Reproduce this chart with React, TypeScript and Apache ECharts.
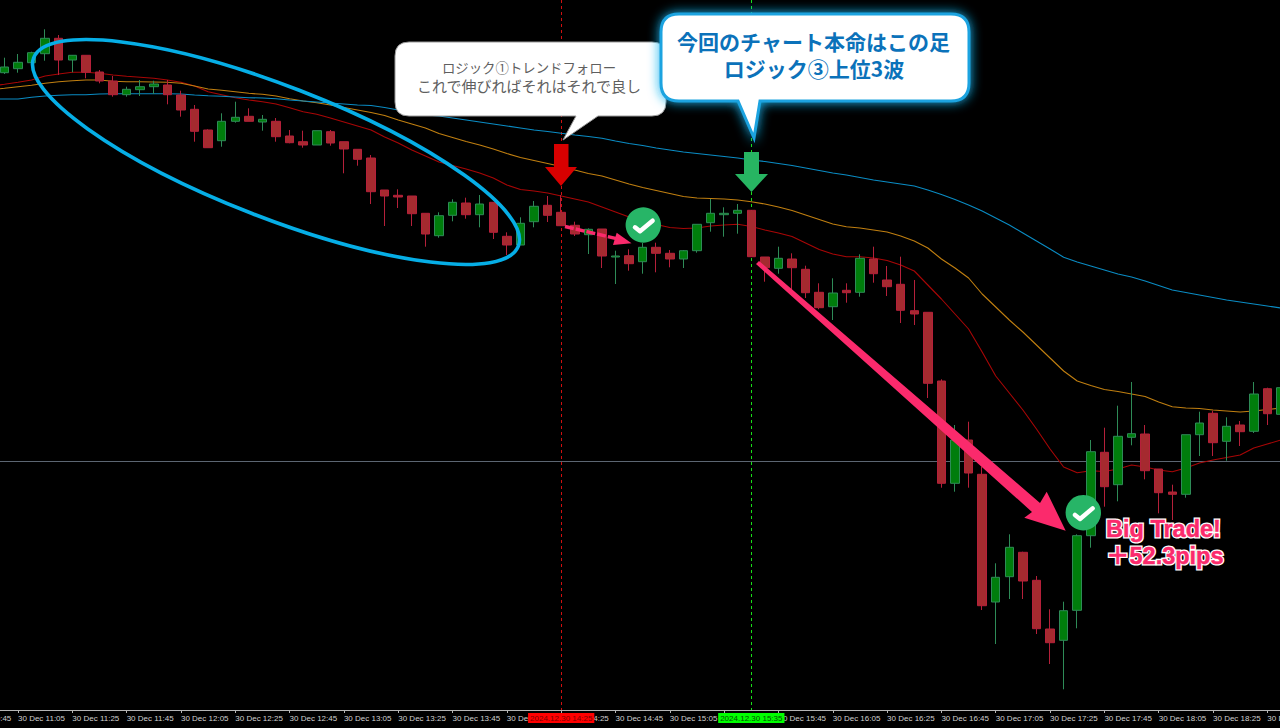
import React, { useEffect, useRef } from "react";
import * as echarts from "echarts";

const pad = ["-", "-", "-"];

const times = [
  "10:45","10:50","10:55",
  "11:00","11:05","11:10","11:15","11:20","11:25","11:30","11:35","11:40","11:45",
  "11:50","11:55","12:00","12:05","12:10","12:15","12:20","12:25","12:30","12:35",
  "12:40","12:45","12:50","12:55","13:00","13:05","13:10","13:15","13:20","13:25",
  "13:30","13:35","13:40","13:45","13:50","13:55","14:00","14:05","14:10","14:15",
  "14:20","14:25","14:30","14:35","14:40","14:45","14:50","14:55","15:00","15:05",
  "15:10","15:15","15:20","15:25","15:30","15:35","15:40","15:45","15:50","15:55",
  "16:00","16:05","16:10","16:15","16:20","16:25","16:30","16:35","16:40","16:45",
  "16:50","16:55","17:00","17:05","17:10","17:15","17:20","17:25","17:30","17:35",
  "17:40","17:45","17:50","17:55","18:00","18:05","18:10","18:15","18:20","18:25",
  "18:30","18:35","18:40","18:45","18:50",
];

const opens = [
  72.7,68.7,62.7,53.7,38.3,60,55.3,72,81,94.7,89.7,86.7,85,95,109.3,130,140.7,121.3,116.3,122,121.3,136,141.7,145,
  131.7,141.7,149.3,158,190,195.3,196,213.3,235.7,215.3,203,214.7,202.3,236.3,245,221.7,205.3,212.3,225.3,234.7,229,257,255.7,261.7,247.3,253.3,259,250.7,222.7,214.7,213.3,210.3,
  257,268.3,259,269.3,292.3,306.7,290.3,292.3,259,280,284.3,310.7,312.3,381,483.3,440,474.3,602,576.7,552.3,580.3,629,640.3,610.3,535.7,452.3,484.7,437.3,434,469,492,494.3,434.7,413.3,441.3,425,431.3,388.7,414.3,
];
const closes = [
  67,62.3,52.7,38.3,60,55.3,72.3,81,94.7,89.3,86.7,84,94.7,110,131.3,147.7,121.3,117.3,121.3,119.3,136.7,142.7,145,130.7,
  143,149,159.3,191.7,196,197,213.7,234,215.7,202.3,214.7,204,232.3,245,223.3,206.3,215.3,225.7,234,229.3,256,256,263.7,247.3,253.3,259,250.7,224.3,213.3,213.3,210.3,256.7,
  267.7,258.3,267.7,292.7,307.7,293,292.7,258.3,273.7,286.7,310.3,314,383.3,483.3,440,473,605.7,577.3,547.3,581,628.7,642.7,610.7,535.7,451.7,486.7,436.3,433.7,470.7,492.7,494.3,434.7,423,442.7,426.3,431.7,394,413.7,387.7,
];
const wickTops = [
  57.7,54,51.7,29.3,35,55,55.3,70,76,86.7,80,80.7,80,90.7,105,129.3,113.3,101.7,108.3,115,118,130,130.7,130.7,
  130,141.7,149.3,155,190,189.3,196,213.3,212.3,199.3,197.7,195,202.3,232.3,217.3,201,196,195,221.7,228.3,229,250.7,249.3,243,242.7,250,250,224.3,199,207.3,204,210.3,
  257,246.7,253.3,265.7,283.3,278.3,283.3,254.3,246.7,266,256.7,280,312.3,379.3,425,421.7,466.7,563.3,534.3,551.7,576,609.3,601.7,534.3,440,427.7,405.7,382,425,469,484.7,434.7,411.7,410.7,417.3,421,382,387.7,387.7,
];
const wickBottoms = [
  74,72.7,62.7,60.7,75,72.3,78.3,83.3,96.7,96.7,96,94,104.3,116.7,141.7,147.7,146.7,122.7,121.3,130.7,141.7,143.3,147.7,145,
  145.7,173.3,165.7,204,226,208,226,246.7,237.7,221.3,218.7,227.3,239,255,245,227.3,222,225.7,236,254,268,284,270.7,273.7,272.3,267.3,268,252.7,231.7,236.7,233.7,256.7,
  281.7,273.7,293.3,298,309.3,320,302.7,296.7,282.7,296,323,325,398,487.7,491.7,487.7,610,644,599,599,634,664,689.3,628.3,547.7,506.7,501.3,445.3,479.3,513.3,520,497.7,456,456,460.7,446,433,425,414.3,
];

const fastMA = [
  "-","-",86,
  84.3,82.3,80,76,74,72.3,72.3,73.3,75,76.3,77.3,78.3,80,82.3,86,91.7,94.7,97.7,100,101.7,104,107.7,111.7,114.3,
  118,122,126,130,137,143,150,156,162,165.5,169,173,178,185,189.5,191,193,196,199,202,207,212,217,221,224.5,227.5,228.5,228,226,225,224.3,226.5,
  230,233,236.5,243,249.5,254,256.7,256.7,258,260.5,265,271,285,299,314,329,352,376,393,410,429,449,467,472.7,470.7,471.5,469,465,467,470,471.7,468,463,460,457.5,455,448,444,440,
];
const midMA = [
  "-","-",89.5,
  88.3,86.7,85.3,83.3,81.7,80.7,80,80,81.3,81.7,81.7,82,82.3,83.3,86,89,90.3,91.7,93.3,94.3,96,98.7,101,102.7,
  105,107.5,110,112.5,115.5,120,124,128,133.5,137.5,141.5,145,149,153.5,157.5,160.5,163.5,166.5,170,173.5,176,180,184,187.5,190.5,193.5,196.5,198,198.5,199,200,201.7,
  204,207,210.5,215,219.5,224,226.7,228,230,232,236,241,248,259,268,278,294,307,320,332,345,358,371,381,385.5,389.5,391.5,394,396.5,402,406.7,408,408.5,410,411,412,411,409.5,408,
];
const slowMA = [
  "-","-",99,
  99,99,97.3,96,95.3,94.7,94.7,94,93.7,93.7,93.7,93.7,93.7,94,95,95.7,96.3,97,97.7,98,98.7,100,101,102,
  103,104,105,105.5,107.5,110,112.5,115,116,118,120,122,124,126,128,130,131.5,133.3,135,136.5,138.3,141,143.5,145.5,148,150,152,153.5,155,156.5,158,160,
  161.5,163.5,165.5,168,170.5,173,175,177.5,180,182,184,186,190,194.5,199.5,205,211,218,225,233,241,249,257.2,262,266,270,274,277,281,285.5,290,292.5,295,297.5,300,302,304,306,308,
];

const priceLine = 461.5;
const redEntry = "14:25";
const greenEntry = "15:35";

const FONT_JP = '"Noto Sans CJK JP", "Noto Sans", sans-serif';
const FONT_EN = '"Liberation Sans", "Noto Sans CJK JP", sans-serif';

function bubblePath(l: number, t: number, r: number, b: number, rad: number, t1: number, tx: number, ty: number, t2: number) {
  return `M${l + rad} ${t}L${r - rad} ${t}Q${r} ${t} ${r} ${t + rad}L${r} ${b - rad}Q${r} ${b} ${r - rad} ${b}L${t2} ${b}L${tx} ${ty}L${t1} ${b}L${l + rad} ${b}Q${l} ${b} ${l} ${b - rad}L${l} ${t + rad}Q${l} ${t} ${l + rad} ${t}Z`;
}
echarts.graphic.registerShape("bubbleWhite", echarts.graphic.extendPath(bubblePath(395, 42, 666, 116, 14, 576, 563, 140, 598) as any, {}) as any);
echarts.graphic.registerShape("bubbleBlue", echarts.graphic.extendPath(bubblePath(661, 14, 969, 101, 18, 738, 754, 138, 760) as any, {}) as any);

const check = (cx: number, cy: number) => [
  { type: "circle", z: 20, shape: { cx, cy, r: 17.7 }, style: { fill: "#27b567" } },
  { type: "polyline", z: 21, shape: { points: [[cx - 8.3, cy + 2.3], [cx - 3.3, cy + 6.3], [cx + 9.3, cy - 4.3]] }, style: { stroke: "#ffffff", lineWidth: 4.5, fill: "none", lineCap: "round", lineJoin: "round" } },
];

const bigFill = (x: number, y: number, text: string, size: number) => ({
  type: "text", z: 23, style: { x, y, text, align: "left", verticalAlign: "middle", font: `bold ${size}px ${FONT_EN}`, fill: "#fb2a6c", stroke: "#fb2a6c", lineWidth: 0.5 },
});

export default function App() {
  const ref = useRef<HTMLDivElement>(null);
  useEffect(() => {
    document.body.style.margin = "0";
    document.body.style.background = "#000";
    const chart = echarts.init(ref.current!, null, { renderer: "svg" });
    const candles = times.map((_, k) =>
      k < 3 ? pad : [opens[k - 3], closes[k - 3], wickTops[k - 3], wickBottoms[k - 3]]
    );
    const lineSeries = (name: string, data: any[], color: string, extra: any = {}) => ({
      name, type: "line", data, showSymbol: false, symbol: "none", smooth: false, z: 1,
      lineStyle: { color, width: 1.1 }, silent: true, ...extra,
    });
    chart.setOption({
      animation: false,
      backgroundColor: "#000000",
      grid: { left: -43.1, top: 0, width: 1330.8, height: 710, containLabel: false, outerBoundsMode: "none" },
      xAxis: {
        type: "category",
        z: 0,
        data: times.map((t) => `30 Dec ${t}`),
        position: "bottom",
        boundaryGap: true,
        axisLine: { onZero: false, lineStyle: { color: "#b5b5b5", width: 1 } },
        axisTick: { show: true, alignWithLabel: true, interval: 3, length: 3, lineStyle: { color: "#b5b5b5" } },
        axisLabel: { interval: 3, align: "left", margin: 4, color: "#d0d0d0", fontSize: 8, fontFamily: '"Liberation Sans", sans-serif', hideOverlap: false },
        splitLine: { show: false },
      },
      yAxis: { type: "value", inverse: true, min: 0, max: 710, show: false, splitLine: { show: false } },
      series: [
        lineSeries("MA fast", fastMA, "#a80606"),
        lineSeries("MA mid", midMA, "#c07f10"),
        lineSeries("MA slow", slowMA, "#0a8cc4", {
          markLine: {
            z: 1,
            silent: true, symbol: "none", animation: false,
            data: [
              { yAxis: priceLine, lineStyle: { color: "#5c6672", width: 1, type: "solid" }, label: { show: false } },
              {
                xAxis: `30 Dec ${redEntry}`,
                lineStyle: { color: "#d01010", width: 1, type: [3, 3] },
                label: { show: true, position: "end", distance: 3, formatter: "2024.12.30 14:25", fontSize: 8, fontFamily: '"Liberation Sans", sans-serif', color: "#7a0000", backgroundColor: "#ff0000", padding: [1, 2, 1, 2] },
              },
              {
                xAxis: `30 Dec ${greenEntry}`,
                lineStyle: { color: "#18e018", width: 1, type: [3, 3] },
                label: { show: true, position: "end", distance: 3, formatter: "2024.12.30 15:35", fontSize: 8, fontFamily: '"Liberation Sans", sans-serif', color: "#005000", backgroundColor: "#00ff00", padding: [1, 2, 1, 2] },
              },
            ],
          },
        }),
        {
          name: "USDJPY M5",
          type: "candlestick",
          data: candles,
          z: 2,
          barWidth: 9,
          itemStyle: { color: "#a52a2f", color0: "#007d0c", borderColor: "#b5203a", borderColor0: "#2e8b57", borderWidth: 1 },
        },
      ],
      graphic: { elements: [
        { type: "ellipse", z: 15, x: 276, y: 152, rotation: -0.37, shape: { cx: 0, cy: 0, rx: 260, ry: 66 }, style: { fill: "none", stroke: "#06aee6", lineWidth: 3.6 } },
        { type: "bubbleWhite", z: 16, style: { fill: "#ffffff", stroke: "#9a9a9a", lineWidth: 1 } },
        { type: "bubbleBlue", z: 17, style: { fill: "#ffffff", stroke: "#1aa3e0", lineWidth: 3, shadowBlur: 12, shadowColor: "#12b5f0" } },
        { type: "text", z: 18, style: { x: 529, y: 66.5, text: "ロジック①トレンドフォロー", align: "center", verticalAlign: "middle", font: `13.4px ${FONT_JP}`, fill: "#5f5f5f" } },
        { type: "text", z: 18, style: { x: 529, y: 85.5, text: "これで伸びればそれはそれで良し", align: "center", verticalAlign: "middle", font: `15px ${FONT_JP}`, fill: "#5f5f5f" } },
        { type: "text", z: 18, style: { x: 813.5, y: 41, text: "今回のチャート本命はこの足", align: "center", verticalAlign: "middle", font: `bold 21px ${FONT_JP}`, fill: "#0b72ba" } },
        { type: "text", z: 18, style: { x: 814, y: 68, text: "ロジック③上位3波", align: "center", verticalAlign: "middle", font: `bold 21px ${FONT_JP}`, fill: "#0b72ba" } },
        { type: "polygon", z: 18, shape: { points: [[554, 144], [568.5, 144], [568.5, 167], [577, 167], [561, 186], [545, 167], [554, 167]] }, style: { fill: "#d80000" } },
        { type: "polygon", z: 18, shape: { points: [[744, 152], [759, 152], [759, 174], [768, 174], [751.5, 192], [735, 174], [744, 174]] }, style: { fill: "#27b562" } },
        { type: "polygon", z: 19, shape: { points: [[756, 264], [759, 261], [1040, 503], [1046.7, 491.7], [1065.7, 530.7], [1024.3, 517.7], [1032, 512]] }, style: { fill: "#fb2a6c" } },
        { type: "line", z: 19, shape: { x1: 565, y1: 226.5, x2: 618, y2: 239 }, style: { stroke: "#fb2a6c", lineWidth: 3.5, lineDash: [9, 2] } },
        { type: "polygon", z: 19, shape: { points: [[631.5, 243.3], [616.7, 232.7], [613, 245]] }, style: { fill: "#fb2a6c" } },
        ...check(643.3, 225),
        ...check(1083.3, 512.7),
        { type: "text", z: 22, style: { x: 1106, y: 529, text: "Big Trade!", align: "left", verticalAlign: "middle", font: `bold 23.5px ${FONT_EN}`, fill: "#ffffff", stroke: "#ffffff", lineWidth: 3.2 } },
        bigFill(1106, 529, "Big Trade!", 23.5),
        { type: "text", z: 22, style: { x: 1106, y: 555.5, text: "＋52.3pips", align: "left", verticalAlign: "middle", font: `bold 23.5px ${FONT_EN}`, fill: "#ffffff", stroke: "#ffffff", lineWidth: 3.2 } },
        bigFill(1106, 555.5, "＋52.3pips", 23.5),
      ] },
    });
    return () => chart.dispose();
  }, []);
  return <div ref={ref} style={{ position: "fixed", left: 0, top: 0, width: 1280, height: 728, overflow: "hidden" }} />;
}
